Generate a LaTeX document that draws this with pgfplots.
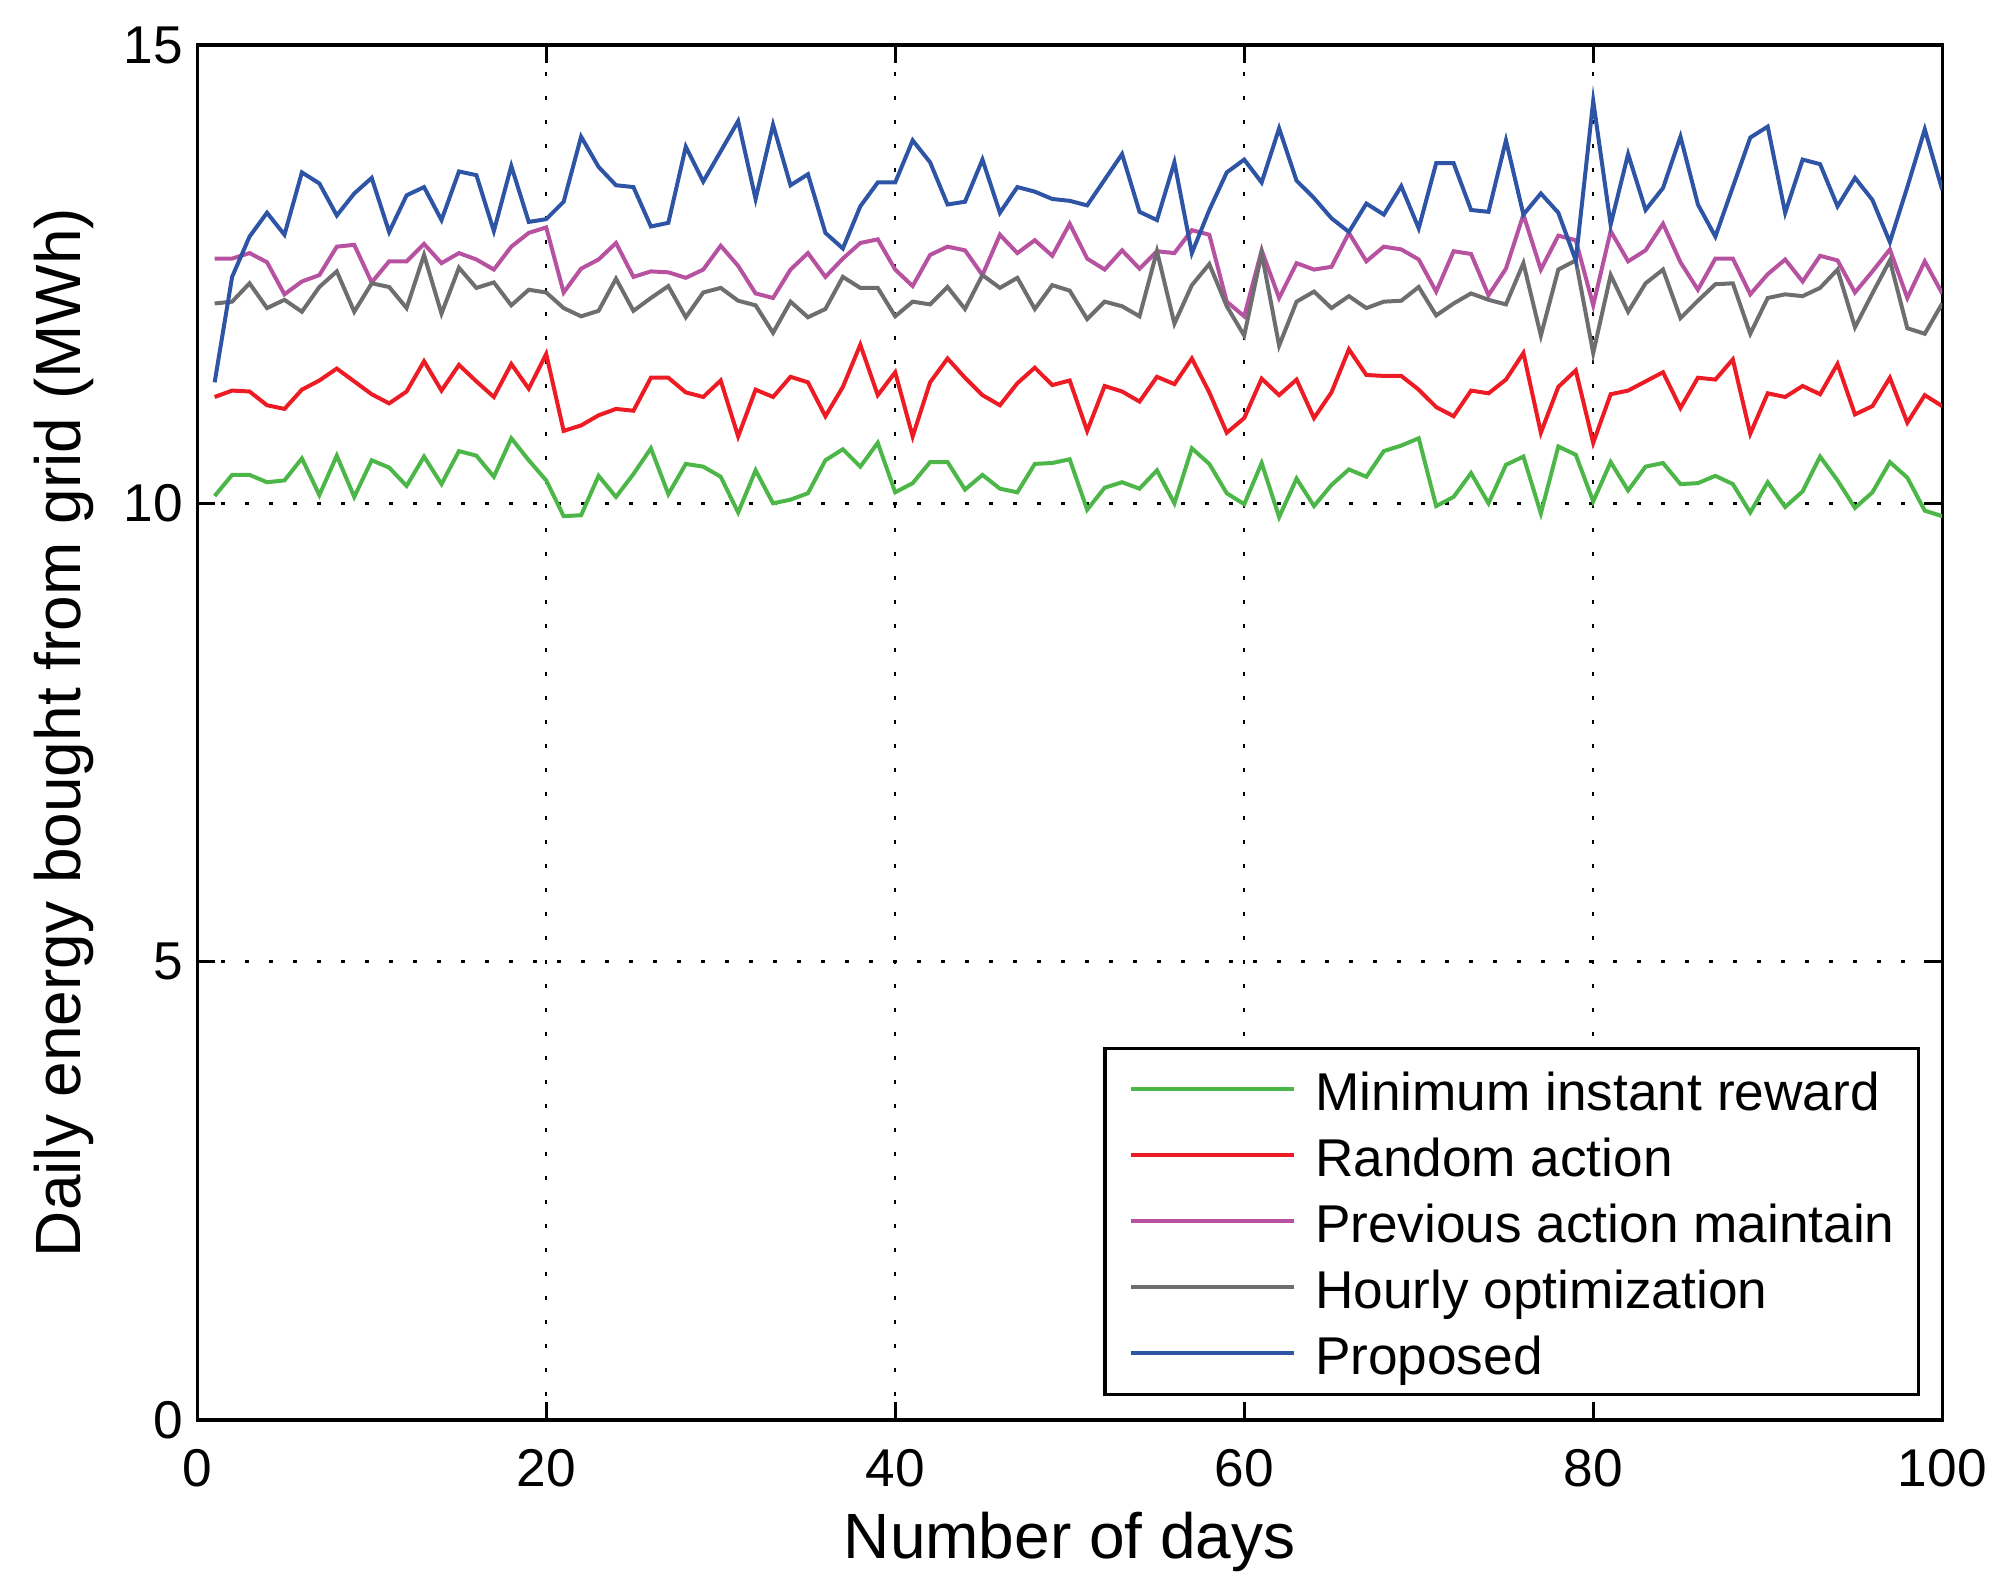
\documentclass[border=0pt]{standalone}
\usepackage{pgfplots}
\usepackage{pgfplotstable}
\pgfplotsset{compat=1.18}
\usepackage{fontspec}
\setmainfont{Liberation Sans}
\definecolor{cgreen}{RGB}{76,183,72}
\definecolor{cred}{RGB}{237,28,36}
\definecolor{cmag}{RGB}{183,82,160}
\definecolor{cgray}{RGB}{110,110,113}
\definecolor{cblue}{RGB}{46,84,165}
\pgfplotstableread{
d g r m k b
1 10.08 11.16 12.67 12.18 11.32
2 10.31 11.23 12.67 12.20 12.47
3 10.31 11.22 12.73 12.40 12.91
4 10.23 11.07 12.63 12.13 13.17
5 10.25 11.03 12.28 12.22 12.93
6 10.49 11.24 12.42 12.09 13.61
7 10.09 11.34 12.49 12.36 13.49
8 10.52 11.47 12.80 12.53 13.14
9 10.07 11.33 12.82 12.09 13.38
10 10.47 11.19 12.41 12.40 13.55
11 10.39 11.09 12.64 12.36 12.96
12 10.19 11.22 12.64 12.13 13.36
13 10.51 11.55 12.83 12.71 13.45
14 10.21 11.23 12.62 12.07 13.09
15 10.57 11.51 12.73 12.57 13.62
16 10.52 11.33 12.66 12.35 13.58
17 10.29 11.16 12.55 12.41 12.97
18 10.71 11.52 12.80 12.16 13.68
19 10.47 11.25 12.95 12.33 13.07
20 10.25 11.63 13.01 12.30 13.10
21 9.86 10.79 12.30 12.13 13.29
22 9.87 10.85 12.56 12.04 14.00
23 10.30 10.96 12.66 12.10 13.67
24 10.07 11.03 12.84 12.45 13.47
25 10.32 11.01 12.47 12.10 13.45
26 10.60 11.37 12.53 12.24 13.02
27 10.10 11.37 12.52 12.37 13.06
28 10.43 11.21 12.46 12.03 13.89
29 10.40 11.16 12.55 12.30 13.51
30 10.29 11.34 12.81 12.35 13.84
31 9.90 10.73 12.59 12.21 14.17
32 10.36 11.24 12.29 12.16 13.32
33 10.00 11.16 12.24 11.86 14.13
34 10.04 11.38 12.55 12.20 13.47
35 10.11 11.32 12.73 12.03 13.59
36 10.47 10.95 12.47 12.12 12.95
37 10.59 11.27 12.67 12.47 12.78
38 10.40 11.73 12.84 12.35 13.24
39 10.66 11.18 12.88 12.35 13.50
40 10.12 11.43 12.55 12.04 13.50
41 10.22 10.73 12.37 12.20 13.96
42 10.45 11.32 12.71 12.17 13.72
43 10.45 11.58 12.80 12.36 13.26
44 10.15 11.37 12.76 12.12 13.29
45 10.31 11.18 12.49 12.49 13.75
46 10.16 11.07 12.93 12.35 13.17
47 10.12 11.31 12.73 12.46 13.45
48 10.43 11.48 12.87 12.12 13.40
49 10.44 11.29 12.70 12.38 13.32
50 10.48 11.34 13.05 12.32 13.30
51 9.93 10.79 12.67 12.01 13.25
52 10.17 11.28 12.55 12.20 13.53
53 10.23 11.22 12.76 12.15 13.81
54 10.16 11.11 12.56 12.04 13.18
55 10.36 11.38 12.75 12.75 13.09
56 10.00 11.30 12.73 11.96 13.72
57 10.60 11.58 12.98 12.38 12.73
58 10.43 11.21 12.93 12.61 13.20
59 10.11 10.77 12.20 12.15 13.61
60 9.99 10.93 12.04 11.83 13.75
61 10.44 11.36 12.76 12.73 13.50
62 9.85 11.18 12.24 11.72 14.09
63 10.27 11.35 12.62 12.20 13.52
64 9.97 10.93 12.55 12.31 13.33
65 10.20 11.21 12.58 12.13 13.11
66 10.37 11.68 12.95 12.26 12.96
67 10.29 11.40 12.64 12.13 13.27
68 10.57 11.39 12.80 12.20 13.15
69 10.63 11.39 12.77 12.21 13.46
70 10.71 11.24 12.66 12.36 13.00
71 9.97 11.05 12.31 12.05 13.71
72 10.07 10.95 12.75 12.18 13.71
73 10.33 11.23 12.72 12.29 13.20
74 10.00 11.20 12.27 12.22 13.18
75 10.42 11.35 12.56 12.17 13.96
76 10.51 11.64 13.15 12.62 13.15
77 9.89 10.77 12.55 11.83 13.38
78 10.62 11.27 12.92 12.55 13.17
79 10.53 11.45 12.87 12.65 12.65
80 10.02 10.66 12.16 11.64 14.39
81 10.45 11.19 12.97 12.49 13.04
82 10.14 11.23 12.64 12.09 13.81
83 10.40 11.33 12.76 12.40 13.20
84 10.44 11.43 13.05 12.55 13.44
85 10.21 11.04 12.63 12.02 14.00
86 10.22 11.37 12.33 12.21 13.26
87 10.30 11.35 12.67 12.39 12.91
88 10.21 11.57 12.67 12.40 13.45
89 9.90 10.76 12.28 11.85 13.99
90 10.23 11.20 12.50 12.24 14.11
91 9.96 11.16 12.66 12.28 13.17
92 10.13 11.28 12.42 12.26 13.75
93 10.51 11.19 12.70 12.35 13.70
94 10.25 11.52 12.65 12.55 13.24
95 9.95 10.97 12.30 11.92 13.55
96 10.12 11.06 12.53 12.29 13.31
97 10.45 11.37 12.77 12.65 12.85
98 10.28 10.88 12.24 11.91 13.45
99 9.92 11.18 12.64 11.85 14.08
100 9.86 11.06 12.29 12.18 13.42
}\datatab
\begin{document}
\begin{tikzpicture}
\useasboundingbox (0,0) rectangle (500pt,398.75pt);
\begin{axis}[
  at={(49.3pt,43.75pt)}, anchor=south west,
  scale only axis, width=436.25pt, height=343.75pt,
  xmin=0, xmax=100, ymin=0, ymax=15,
  xtick={0,20,40,60,80,100}, ytick={0,5,10,15},
  axis line style={black, line width=0.8pt},
  tick align=inside, major tick length=4.5pt,
  every tick/.style={black, line width=0.8pt},
  grid=major,
  major grid style={black, line width=0.6pt, dash pattern=on 1pt off 5pt},
  /pgf/number format/assume math mode=true,
  tick label style={font=\fontsize{13.3}{15}\selectfont},
  xticklabel style={yshift=-3.8pt},
  xlabel={Number of days},
  ylabel={Daily energy bought from grid (MWh)},
  every axis x label/.style={at={(axis description cs:0.5,0)}, anchor=base, yshift=-34.5pt, font=\fontsize{16}{19}\selectfont},
  every axis y label/.style={at={(axis description cs:0,0.5)}, rotate=90, anchor=center, yshift=33.3pt, font=\fontsize{16}{19}\selectfont},
  legend cell align=left,
  legend image code/.code={\draw[#1] (0pt,0pt) -- (40.75pt,0pt);},
  legend style={at={(1,0)}, anchor=south east, xshift=-5.5pt, yshift=6pt,
    draw=black, line width=0.8pt, fill=white,
    inner xsep=6pt, inner ysep=2pt,
    font=\fontsize{13.3}{16}\selectfont,
    nodes={inner xsep=0pt, inner ysep=2pt, text height=11.5pt, text depth=1pt},
    /tikz/every odd column/.append style={column sep=4.75pt}},
]
\addplot[cgreen, line width=1pt] table[x=d, y=g] {\datatab};
\addlegendentry{Minimum instant reward}
\addplot[cred, line width=1pt] table[x=d, y=r] {\datatab};
\addlegendentry{Random action}
\addplot[cmag, line width=1pt] table[x=d, y=m] {\datatab};
\addlegendentry{Previous action maintain}
\addplot[cgray, line width=1pt] table[x=d, y=k] {\datatab};
\addlegendentry{Hourly optimization}
\addplot[cblue, line width=1pt] table[x=d, y=b] {\datatab};
\addlegendentry{Proposed}
\end{axis}
\end{tikzpicture}
\end{document}
